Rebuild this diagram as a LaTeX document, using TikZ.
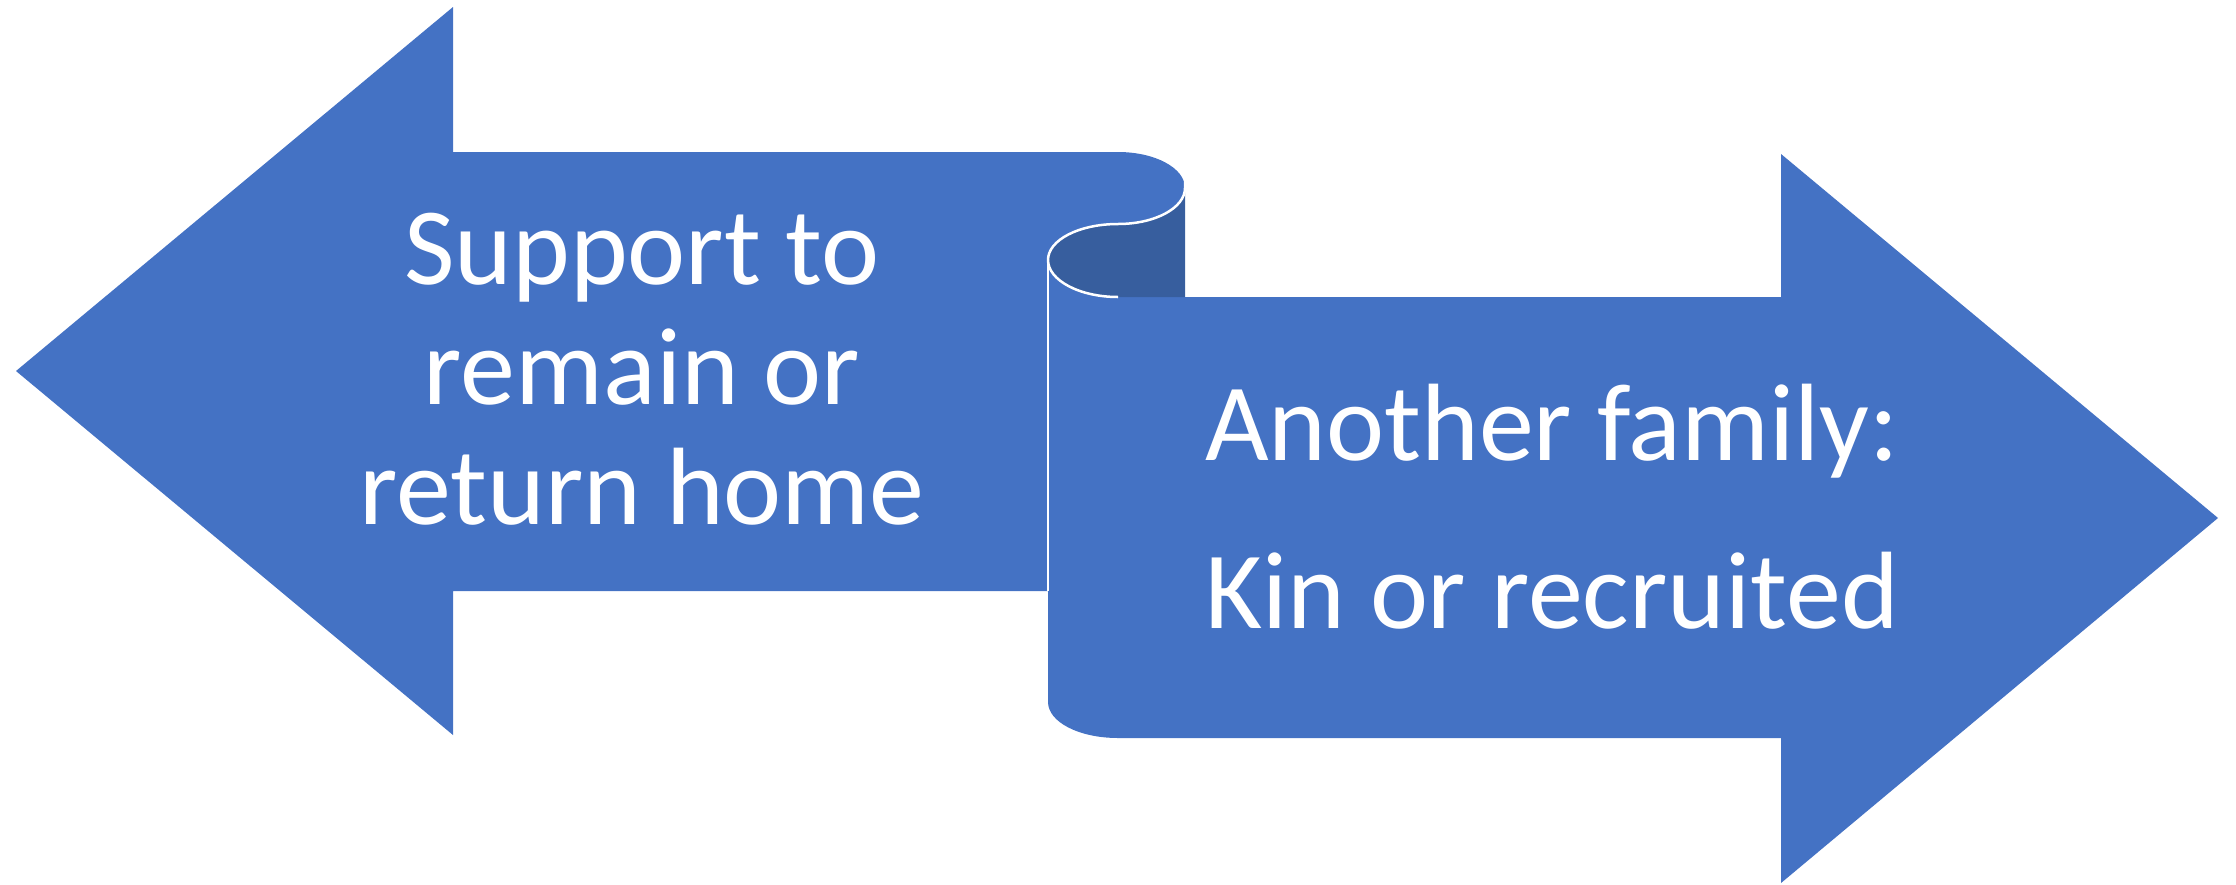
\documentclass[tikz,border=0pt]{standalone}
\usepackage{fontspec}
\setmainfont{Carlito}
\definecolor{arrowblue}{HTML}{4472C4}
\definecolor{curldark}{RGB}{55,94,158}
\tikzset{
  arrowfill/.style={fill=arrowblue, draw=none},
  curlfill/.style={fill=curldark, draw=none},
  curlline/.style={draw=white, line width=2.5pt, line join=round},
  label/.style={text=white, inner sep=0pt, anchor=base, font=\fontsize{110}{120}\selectfont}
}
\begin{document}
\begin{tikzpicture}[x=1pt, y=-1pt]
\useasboundingbox (0,0) rectangle (2236,884);
% named points
\coordinate (ltip) at (16,371);
\coordinate (rtip) at (2218,518);
\coordinate (ctop) at (1118,152);
\coordinate (cright) at (1185,188);
\coordinate (cmid) at (1118,224);
\coordinate (cleft) at (1048,260);
\coordinate (cbot) at (1118,297);
\coordinate (lbotjoin) at (1048,591);
% left arrow
\path[arrowfill] (ltip) -- (453,7) -- (453,152) -- (ctop)
  .. controls (1155,152) and (1185,168) .. (cright)
  .. controls (1185,208) and (1155,224) .. (cmid)
  .. controls (1079,224) and (1048,240) .. (cleft)
  -- (lbotjoin) -- (453,591) -- (453,735) -- cycle;
% right arrow
\path[arrowfill] (cleft) .. controls (1048,280) and (1079,297) .. (cbot)
  -- (1781,297) -- (1781,154) -- (rtip) -- (1781,883) -- (1781,738)
  -- (1118,738) .. controls (1079,738) and (1048,722) .. (1048,702) -- cycle;
% dark underside of the curl
\path[curlfill] (cright) .. controls (1185,208) and (1155,224) .. (cmid)
  .. controls (1079,224) and (1048,240) .. (cleft)
  .. controls (1048,280) and (1079,297) .. (cbot) -- (1185,297) -- cycle;
% white curl lines
\draw[curlline] (1185,176) -- (cright) .. controls (1185,208) and (1155,224) .. (cmid)
  .. controls (1079,224) and (1048,240) .. (cleft)
  .. controls (1048,280) and (1079,297) .. (cbot);
\draw[curlline] (cleft) -- (lbotjoin);
% texts
\node[label] (l1) at (642,284) {Support to};
\node[label] (l2) at (642,404) {remain or};
\node[label] (l3) at (642,524) {return home};
\node[label] (r1) at (1552,460) {Another family:};
\node[label] (r2) at (1552,628) {Kin or recruited};
\end{tikzpicture}
\end{document}
